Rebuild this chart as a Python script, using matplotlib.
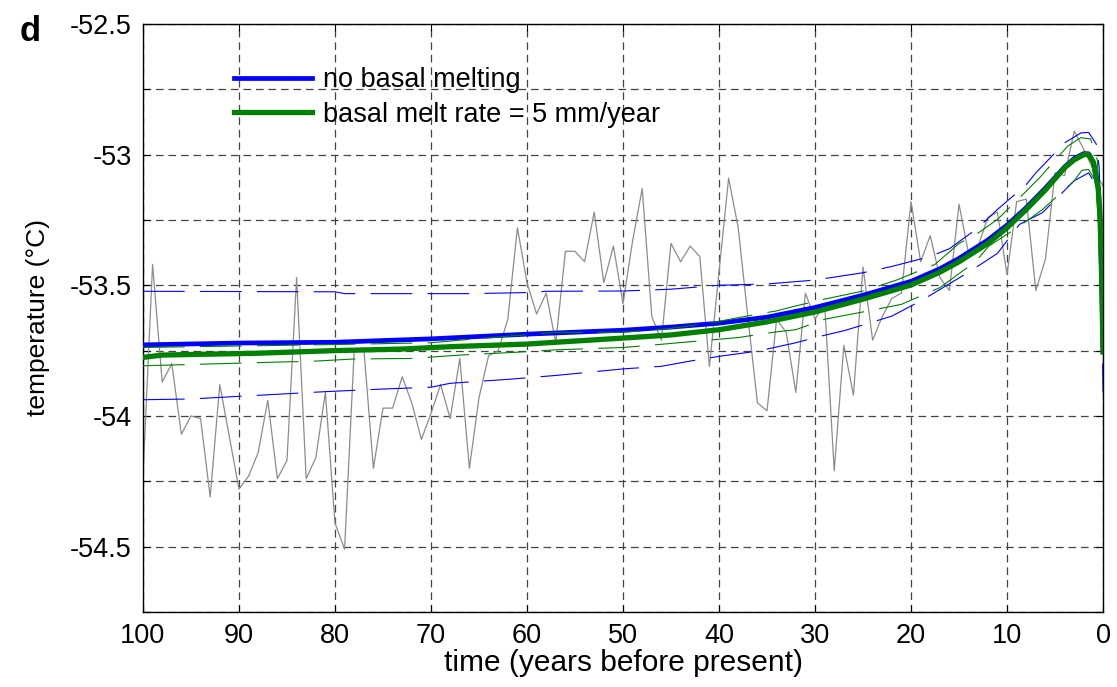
import numpy as np
import matplotlib
matplotlib.use("Agg")
import matplotlib.pyplot as plt
from matplotlib.ticker import FuncFormatter

plt.rcParams['font.family'] = ['Liberation Sans', 'DejaVu Sans']
plt.rcParams['axes.unicode_minus'] = False
plt.rcParams['lines.scale_dashes'] = False

# Annual temperature record (years before present, degC)
obs_years = np.arange(100, -1, -1)
obs_temp = [
    -54.23, -53.42, -53.87, -53.80, -54.07, -54.00, -54.01, -54.31, -53.88, -54.08,
    -54.28, -54.23, -54.14, -53.94, -54.24, -54.17, -53.47, -54.24, -54.16, -53.91,
    -54.41, -54.51, -53.75, -53.74, -54.20, -53.97, -53.97, -53.85, -53.95, -54.09,
    -53.99, -53.88, -54.01, -53.78, -54.20, -53.93, -53.77, -53.75, -53.63, -53.28,
    -53.49, -53.61, -53.53, -53.72, -53.37, -53.37, -53.41, -53.22, -53.49, -53.35,
    -53.57, -53.33, -53.13, -53.62, -53.71, -53.34, -53.41, -53.35, -53.39, -53.81,
    -53.45, -53.09, -53.28, -53.62, -53.95, -53.98, -53.63, -53.68, -53.91, -53.53,
    -53.63, -53.57, -54.21, -53.73, -53.92, -53.43, -53.71, -53.62, -53.55, -53.53,
    -53.18, -53.41, -53.31, -53.47, -53.52, -53.19, -53.38, -53.35, -53.24, -53.22,
    -53.46, -53.18, -53.17, -53.52, -53.40, -53.07, -53.08, -52.91, -52.98, -53.06,
    -53.12,
]

# Modelled temperature, no basal melting
nomelt_years = [100, 90, 80, 70, 60, 50, 45, 40, 35, 30, 25, 20, 17, 15, 12, 10,
                8, 6, 4, 3, 2, 1.5, 1, 0.5, 0.3, 0.15, 0]
nomelt_temp = [-53.728, -53.721, -53.718, -53.705, -53.687, -53.672, -53.66,
               -53.645, -53.622, -53.585, -53.538, -53.485, -53.437, -53.397,
               -53.327, -53.27, -53.203, -53.128, -53.047, -53.015, -52.996,
               -52.997, -53.03, -53.13, -53.25, -53.46, -53.755]
nomelt_upper_years = [100, 80, 79, 66, 60, 58, 50, 45, 40, 35, 30, 25, 22, 18, 16,
                      13, 11, 8, 7, 4, 2.3, 1.5, 0.7, 0.4, 0.2, 0]
nomelt_upper = [-53.523, -53.525, -53.532, -53.532, -53.528, -53.523, -53.522,
                -53.515, -53.50, -53.495, -53.48, -53.452, -53.428, -53.39,
                -53.36, -53.28, -53.21, -53.115, -53.07, -52.955, -52.917,
                -52.915, -52.96, -53.05, -53.33, -53.75]
nomelt_lower_years = [100, 95, 90, 81, 75, 70, 68, 62, 57, 50, 46, 43, 40, 37, 35,
                      32, 30, 27, 25, 22, 19, 17.4, 14, 11, 8.7, 6.3, 3.0, 1.5,
                      0.5, 0.2, 0]
nomelt_lower = [-53.938, -53.935, -53.925, -53.907, -53.897, -53.89, -53.875,
                -53.86, -53.845, -53.82, -53.81, -53.79, -53.772, -53.757,
                -53.744, -53.72, -53.70, -53.674, -53.652, -53.618, -53.56,
                -53.525, -53.45, -53.378, -53.267, -53.222, -53.10, -53.07,
                -53.13, -53.4, -53.91]

# Modelled temperature, basal melt rate 5 mm/year
melt_years = [100, 98, 88, 80, 73, 68, 60, 50, 45, 40, 35, 30, 25, 20, 17, 15,
              12, 10, 8, 6, 4, 3, 2, 1.5, 1, 0.5, 0.3, 0.15, 0]
melt_temp = [-53.776, -53.767, -53.76, -53.75, -53.744, -53.735, -53.725,
             -53.702, -53.69, -53.67, -53.64, -53.602, -53.553, -53.499,
             -53.45, -53.41, -53.34, -53.28, -53.21, -53.135, -53.05, -53.02,
             -53.0, -53.0, -53.03, -53.13, -53.25, -53.46, -53.755]
melt_upper_years = [100, 82, 70, 67, 57, 50, 45, 41, 37, 34, 32, 29, 25, 21.5,
                    17.5, 15, 13, 11, 8, 6.6, 3.7, 2.3, 1.3, 0.6, 0.2, 0]
melt_upper = [-53.738, -53.728, -53.72, -53.71, -53.68, -53.68, -53.665, -53.645,
              -53.617, -53.598, -53.579, -53.553, -53.522, -53.48, -53.42,
              -53.34, -53.30, -53.248, -53.14, -53.088, -52.968, -52.935,
              -52.94, -53.02, -53.3, -53.75]
melt_lower_years = [100, 82, 78, 72, 67, 61, 57, 50, 47, 43, 38, 34, 32, 29, 25,
                    21, 17, 13.2, 11.9, 8.7, 6.3, 3.0, 2.2, 1.5, 0.8, 0.3, 0]
melt_lower = [-53.808, -53.79, -53.782, -53.78, -53.767, -53.756, -53.747,
              -53.738, -53.729, -53.716, -53.70, -53.678, -53.67, -53.63,
              -53.602, -53.573, -53.509, -53.407, -53.35, -53.274, -53.21,
              -53.10, -53.06, -53.057, -53.10, -53.3, -53.76]

series_labels = ["no basal melting", "basal melt rate = 5 mm/year"]
x_ticks = np.arange(0, 101, 10)
y_ticks = np.arange(-54.75, -52.49, 0.25)

BLUE = "#0000ff"
GREEN = "#008000"
GRAY = "#8c8c8c"

fig = plt.figure(figsize=(11.17, 6.87), dpi=100)
ax = fig.add_axes([0.128, 0.1092, 0.8595, 0.856])

ax.plot(obs_years, obs_temp, color=GRAY, lw=0.9, zorder=2)
h_blue, = ax.plot(nomelt_years, nomelt_temp, color=BLUE, lw=3.4, zorder=3,
                  solid_joinstyle='round', label=series_labels[0])
bound_dash = (30, 11)
ax.plot(nomelt_upper_years, nomelt_upper, color=BLUE, lw=0.8, dashes=bound_dash, zorder=4)
ax.plot(nomelt_lower_years, nomelt_lower, color=BLUE, lw=0.8, dashes=bound_dash, zorder=4)
ax.plot(melt_upper_years, melt_upper, color=GREEN, lw=0.8, dashes=bound_dash, zorder=5)
ax.plot(melt_lower_years, melt_lower, color=GREEN, lw=0.8, dashes=bound_dash, zorder=5)
h_green, = ax.plot(melt_years, melt_temp, color=GREEN, lw=3.8, zorder=6,
                   solid_joinstyle='round', label=series_labels[1])

ax.set_xlim(100, 0)
ax.set_ylim(-54.75, -52.5)
ax.set_xticks(x_ticks)
ax.set_yticks(y_ticks)


def half_degree_labels(v, pos):
    if abs(v * 2 - round(v * 2)) < 1e-6:
        return "%g" % v
    return ""


ax.yaxis.set_major_formatter(FuncFormatter(half_degree_labels))
ax.tick_params(direction='in', length=5, width=0.8, top=True, right=True,
               labelsize=19.5, pad=8)
ax.grid(True, color="#444444", lw=0.9, dashes=(5.5, 3.5))
for s in ax.spines.values():
    s.set_linewidth(1.0)

ax.set_xlabel("time (years before present)", fontsize=21.5, labelpad=0)
ax.set_ylabel("temperature (°C)", fontsize=19, labelpad=14)

leg = ax.legend(handles=[h_blue, h_green], loc='upper left',
                bbox_to_anchor=(0.069, 0.968), frameon=False, fontsize=19.5,
                handlelength=2.9, handletextpad=0.4, labelspacing=0.32)

fig.text(0.018, 0.94, "d", fontsize=25, fontweight='bold')

fig.savefig("out.png", dpi=100, facecolor='white')
